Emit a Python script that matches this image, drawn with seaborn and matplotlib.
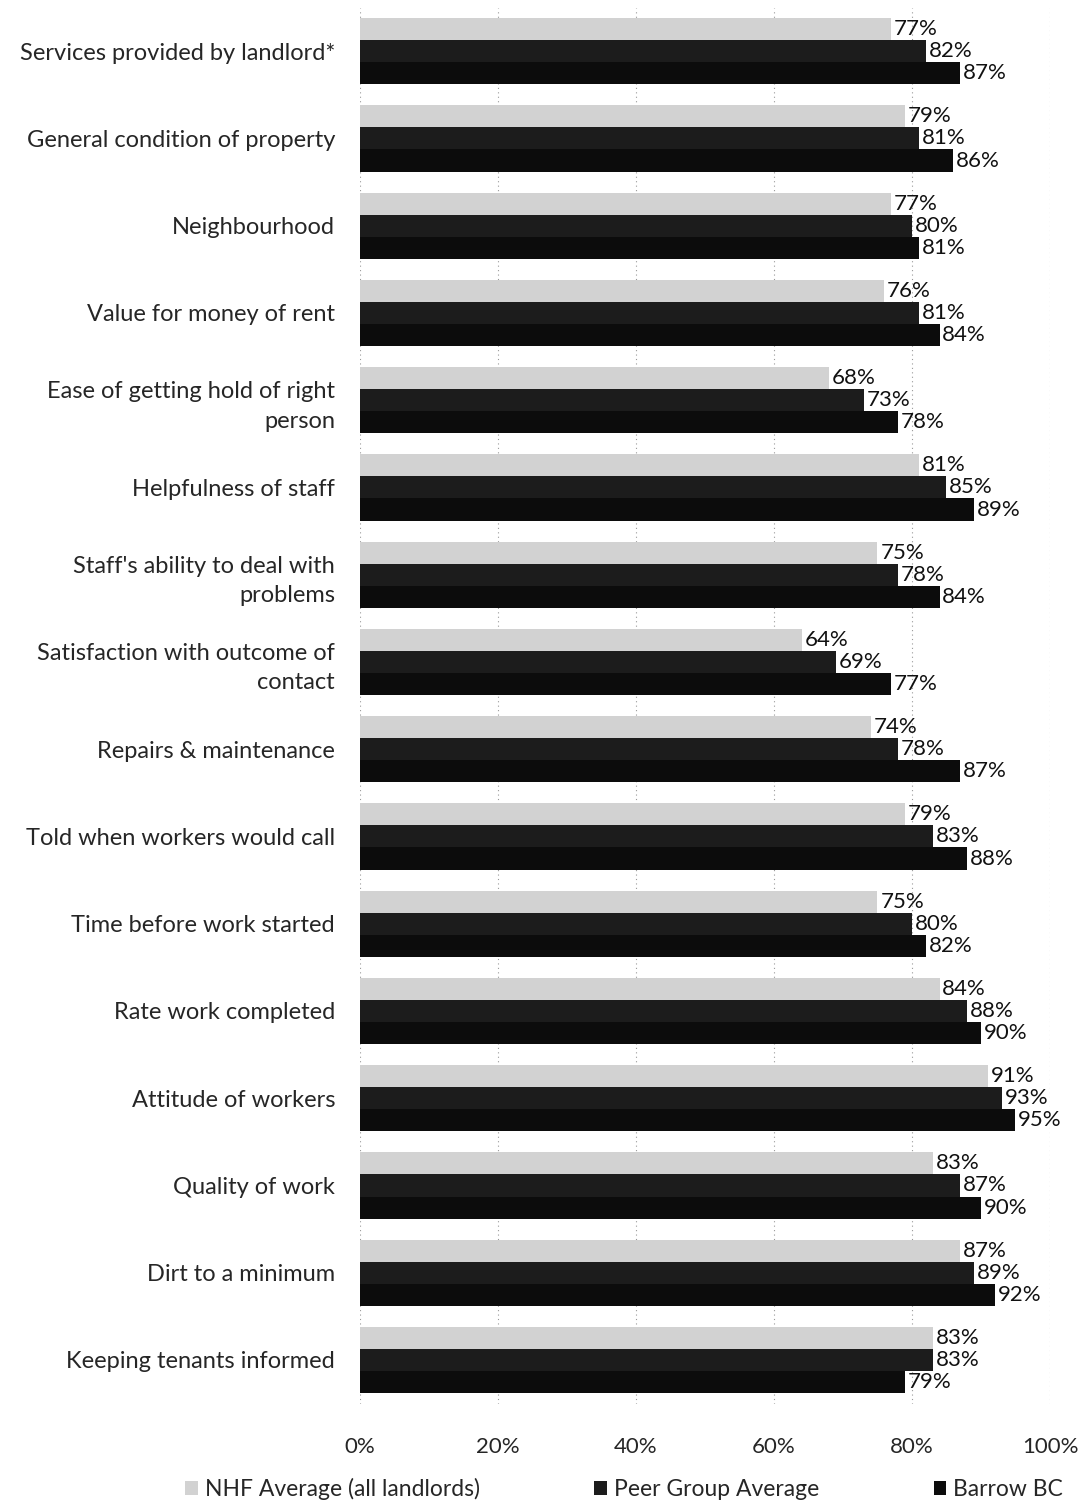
import matplotlib
matplotlib.use("Agg")
import matplotlib.pyplot as plt
import seaborn as sns
import pandas as pd

categories = [
    "Services provided by landlord*",
    "General condition of property",
    "Neighbourhood",
    "Value for money of rent",
    "Ease of getting hold of right\nperson",
    "Helpfulness of staff",
    "Staff's ability to deal with\nproblems",
    "Satisfaction with outcome of\ncontact",
    "Repairs & maintenance",
    "Told when workers would call",
    "Time before work started",
    "Rate work completed",
    "Attitude of workers",
    "Quality of work",
    "Dirt to a minimum",
    "Keeping tenants informed",
]
series_names = ["NHF Average (all landlords)", "Peer Group Average", "Barrow BC"]
nhf = [77, 79, 77, 76, 68, 81, 75, 64, 74, 79, 75, 84, 91, 83, 87, 83]
peer = [82, 81, 80, 81, 73, 85, 78, 69, 78, 83, 80, 88, 93, 87, 89, 83]
barrow = [87, 86, 81, 84, 78, 89, 84, 77, 87, 88, 82, 90, 95, 90, 92, 79]
xticks = [0, 20, 40, 60, 80, 100]

rows = []
for name, vals in zip(series_names, [nhf, peer, barrow]):
    for c, v in zip(categories, vals):
        rows.append({"category": c, "series": name, "value": v})
df = pd.DataFrame(rows)

sns.set_theme(style="white")
plt.rcParams['font.family'] = ['Lato', 'DejaVu Sans']

fig = plt.figure(figsize=(10.91, 15.06), dpi=100)
ax = fig.add_axes([0.33, 0.068, 0.6324, 0.927])

palette = {"NHF Average (all landlords)": "#d2d2d2",
           "Peer Group Average": "#1c1c1c",
           "Barrow BC": "#0c0c0c"}
sns.barplot(data=df, y="category", x="value", hue="series", orient="h",
            order=categories, hue_order=series_names, palette=palette,
            width=0.76, ax=ax, saturation=1, legend=True, linewidth=0)

for cont in ax.containers:
    ax.bar_label(cont, fmt="%d%%", padding=2, fontsize=16, color="#111111")

ax.set_xlim(0, 100)
ax.set_xticks(xticks)
ax.set_xticklabels([f"{t}%" for t in xticks], fontsize=16)
ax.tick_params(axis="x", pad=24, length=0)
ax.tick_params(axis="y", pad=18, length=0, labelsize=17)
for lab in ax.get_yticklabels():
    lab.set_horizontalalignment("right")
    lab.set_linespacing(1.5)
ax.set_xlabel("")
ax.set_ylabel("")
for s in ax.spines.values():
    s.set_visible(False)
ax.xaxis.grid(True, linestyle=(0, (1, 3)), color="#999999", linewidth=0.8)
ax.set_axisbelow(True)

handles, labels = ax.get_legend_handles_labels()
ax.get_legend().remove()
fig.legend(handles, labels, loc="lower center", bbox_to_anchor=(0.572, -0.010),
           ncol=3, frameon=False, fontsize=16.5, handlelength=0.55,
           handleheight=0.55, handletextpad=0.3, columnspacing=5.0)

fig.savefig("out.png", dpi=100)
